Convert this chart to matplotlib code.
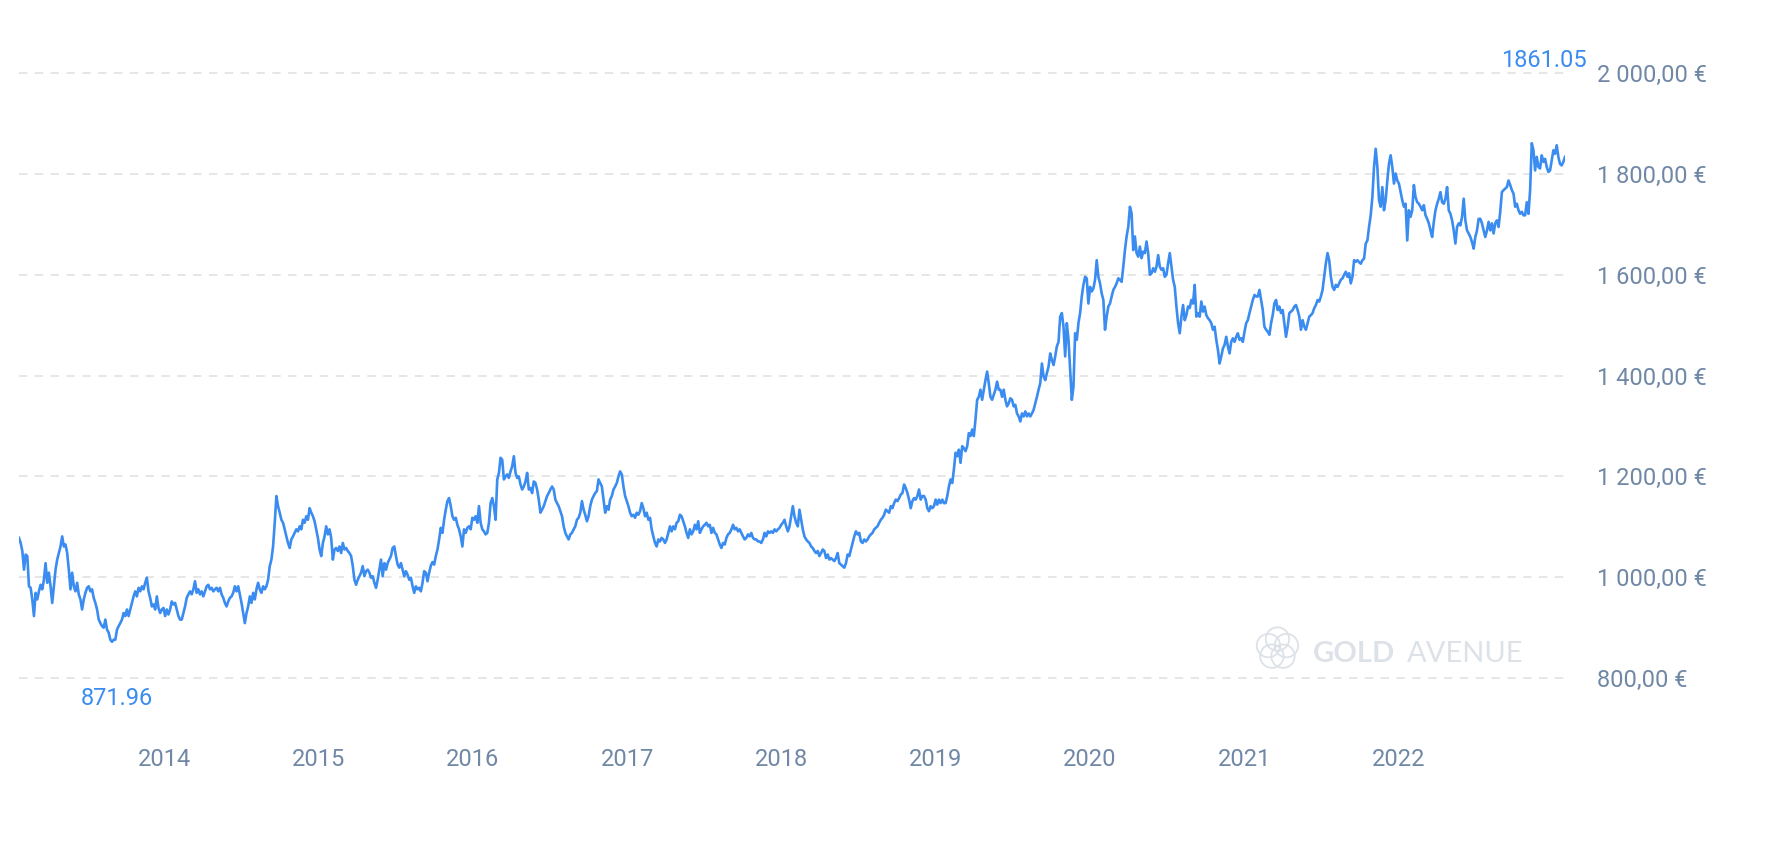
import matplotlib.pyplot as plt
import matplotlib.ticker as mticker
from matplotlib.patches import Circle
import numpy as np
import pandas as pd

plt.rcParams['font.family'] = ['Roboto', 'DejaVu Sans']

# cours de l'or en euros (pas régulier), par tranches
cours_a = [1078, 1068, 1052, 1015, 1045, 1042, 982, 979, 956, 923,
           969, 956, 972, 985, 976, 995, 1028, 989, 1009, 982,
           949, 982, 1015, 1035, 1048, 1061, 1081, 1061, 1065, 1048,
           1015, 976, 1009, 982, 972, 989, 966, 956, 936, 956,
           969, 979, 982, 972, 976, 959, 949, 936, 916, 909,
           903, 900, 916, 896, 890, 876, 871.96, 876, 876, 896,
           903, 909, 916, 929, 923, 936, 923, 936, 949, 962,
           972, 962, 979, 972, 982, 976, 989, 999, 972, 959,
           942, 946, 936, 962, 939, 929, 936, 939, 923, 936,
           926, 936, 952, 946, 949, 936, 923, 916, 916, 929,
           942, 959, 966, 972, 966, 976, 992, 969, 976, 966,
           972, 962, 972, 982, 985, 976, 979, 972, 976, 979,
           972, 979]
cours_b = [966, 959, 949, 942, 952, 959, 962, 969, 982, 972, 982, 966, 949, 929, 909,
           929, 942, 962, 949, 969, 956, 976, 989, 976, 969, 982, 976, 982, 995, 1022,
           1035, 1061, 1108, 1161, 1141, 1128, 1114, 1108, 1095, 1081, 1068, 1058, 1075,
           1081, 1088, 1095, 1091, 1101, 1095, 1114, 1108, 1121, 1114, 1137, 1128, 1121,
           1111, 1095, 1078, 1055, 1042, 1068, 1081, 1101, 1085, 1095, 1078, 1035, 1055,
           1058, 1052, 1061, 1048, 1068, 1055, 1058, 1052, 1048, 1042, 1022, 995, 985, 995,
           1002, 1009, 1022, 1002, 1012, 1015, 1009, 999, 1002, 989, 979, 995, 1015, 1035,
           1002, 1028, 1015, 1028, 1035, 1042, 1058, 1061, 1042, 1025, 1019, 1028, 1015,
           1002, 1012, 1005, 995]
cours_c = [999, 982, 969, 982, 976, 979, 972, 989, 1012, 1009, 992, 1009, 1023, 1030,
           1025, 1042, 1055, 1075, 1098, 1088, 1114, 1134, 1151, 1157, 1141, 1121, 1114,
           1118, 1104, 1095, 1081, 1061, 1095, 1088, 1098, 1101, 1095, 1118, 1114, 1121,
           1108, 1141, 1108, 1095, 1091, 1085, 1088, 1108, 1147, 1157, 1141, 1114, 1194,
           1207, 1237, 1233, 1194, 1200, 1204, 1197, 1210, 1220, 1240, 1207, 1197, 1200,
           1184, 1174, 1180, 1190, 1207, 1174, 1177, 1167, 1190, 1187, 1174, 1154, 1128,
           1134, 1141, 1151, 1161, 1167, 1174, 1180, 1174, 1154, 1147, 1141, 1131, 1121,
           1101, 1088, 1081, 1075, 1085, 1088, 1095, 1101, 1114, 1118, 1128, 1151, 1134,
           1124, 1111, 1121, 1141, 1154, 1161, 1167, 1171, 1194]
cours_d = [1187, 1180, 1154, 1128, 1141, 1134, 1154, 1161, 1174, 1180, 1187, 1200, 1210,
           1204, 1180, 1161, 1151, 1141, 1128, 1121, 1124, 1118, 1128, 1124, 1131, 1147,
           1137, 1121, 1128, 1114, 1118, 1095, 1081, 1068, 1061, 1075, 1071, 1078, 1075,
           1068, 1075, 1088, 1101, 1091, 1101, 1095, 1108, 1111, 1124, 1121, 1111, 1101,
           1088, 1078, 1095, 1085, 1091, 1104, 1095, 1111, 1088, 1095, 1101, 1104, 1108,
           1101, 1104, 1088, 1098, 1088, 1085, 1075, 1065, 1058, 1068, 1065, 1078, 1085,
           1088, 1095, 1104, 1095, 1098, 1091, 1095, 1088, 1081, 1075, 1078, 1085, 1081,
           1088, 1078, 1075, 1075, 1071, 1071, 1068, 1075, 1088, 1081, 1091, 1088, 1091,
           1088, 1095, 1091, 1095, 1098, 1104, 1108, 1114, 1101, 1091]
cours_e = [1101, 1121, 1141, 1121, 1108, 1101, 1134, 1114, 1095, 1081, 1075, 1071, 1068,
           1061, 1058, 1052, 1048, 1052, 1042, 1048, 1055, 1052, 1038, 1045, 1035, 1038,
           1035, 1032, 1038, 1048, 1028, 1025, 1022, 1019, 1028, 1045, 1042, 1055, 1068,
           1081, 1091, 1085, 1088, 1071, 1068, 1075, 1071, 1075, 1081, 1085, 1088, 1095,
           1098, 1101, 1108, 1114, 1118, 1124, 1134, 1131, 1128, 1141, 1137, 1147, 1154,
           1151, 1157, 1164, 1167, 1184, 1177, 1167, 1154, 1137, 1151, 1157, 1154, 1161,
           1174, 1154, 1161, 1161, 1154, 1137, 1131, 1141, 1137, 1141, 1154, 1144, 1154,
           1147, 1154, 1147, 1147, 1161, 1180, 1194, 1187, 1214, 1247, 1240, 1253, 1227,
           1260, 1256, 1250, 1260, 1286, 1280, 1293, 1280, 1313, 1352]
cours_f = [1358, 1372, 1352, 1372, 1391, 1408, 1385, 1358, 1352, 1362, 1372, 1388, 1372,
           1372, 1358, 1372, 1352, 1339, 1345, 1355, 1352, 1339, 1342, 1325, 1319, 1309,
           1325, 1319, 1329, 1319, 1325, 1319, 1325, 1332, 1345, 1358, 1372, 1385, 1424,
           1398, 1391, 1405, 1418, 1444, 1431, 1421, 1438, 1458, 1467, 1517, 1524, 1497,
           1438, 1504, 1471, 1411, 1352, 1378, 1484, 1471, 1504, 1524, 1557, 1580, 1596,
           1593, 1543, 1576, 1567, 1573, 1590, 1629, 1596, 1583, 1563, 1550, 1491, 1517,
           1537, 1543, 1557, 1570, 1576, 1583, 1593, 1590, 1586, 1616, 1649, 1676, 1695,
           1735, 1722, 1649, 1676, 1643, 1636, 1656, 1633, 1646, 1643, 1666, 1643, 1600,
           1603, 1613, 1606, 1616, 1639, 1616, 1610, 1613, 1596, 1600]
cours_g = [1623, 1643, 1616, 1590, 1576, 1537, 1504, 1484, 1517, 1540, 1510, 1520, 1537,
           1534, 1550, 1543, 1580, 1517, 1524, 1517, 1547, 1527, 1537, 1520, 1514, 1510,
           1504, 1491, 1497, 1471, 1451, 1424, 1438, 1454, 1461, 1477, 1458, 1444, 1467,
           1474, 1467, 1477, 1484, 1471, 1474, 1467, 1487, 1504, 1510, 1524, 1537, 1550,
           1560, 1557, 1557, 1570, 1550, 1530, 1497, 1491, 1487, 1481, 1504, 1520, 1543,
           1550, 1530, 1537, 1524, 1530, 1504, 1477, 1497, 1524, 1527, 1530, 1537, 1540,
           1530, 1517, 1491, 1510, 1497, 1491, 1504, 1517, 1520, 1524, 1534, 1540, 1550,
           1547, 1557, 1570, 1596, 1623, 1643, 1629, 1596, 1576, 1570, 1580, 1576, 1583,
           1590, 1593, 1600, 1606, 1596, 1603, 1583, 1596, 1629, 1626]
cours_h = [1629, 1625, 1622, 1629, 1632, 1662, 1668, 1695, 1718, 1754, 1814, 1850, 1814,
           1748, 1735, 1774, 1728, 1748, 1787, 1820, 1837, 1814, 1781, 1801, 1787, 1781,
           1764, 1748, 1735, 1741, 1668, 1728, 1715, 1728, 1778, 1754, 1744, 1741, 1735,
           1728, 1738, 1718, 1711, 1702, 1688, 1675, 1705, 1728, 1741, 1751, 1764, 1744,
           1741, 1751, 1774, 1728, 1721, 1708, 1688, 1662, 1695, 1702, 1698, 1715, 1751,
           1708, 1688, 1682, 1675, 1665, 1652, 1675, 1688, 1711, 1711, 1702, 1688, 1675,
           1688, 1705, 1688, 1702, 1682, 1702, 1708, 1695, 1725, 1764, 1768, 1771, 1774,
           1787, 1778, 1768, 1761, 1735, 1741, 1728, 1721, 1725, 1718, 1718, 1744, 1721,
           1768, 1861.05, 1847, 1807, 1834, 1814, 1811, 1837, 1824, 1830, 1814, 1804, 1807,
           1827, 1847, 1840, 1857, 1834, 1820, 1817, 1824, 1834]

cours = np.array(cours_a + cours_b + cours_c + cours_d + cours_e + cours_f + cours_g + cours_h)
dates = pd.date_range("2013-01-22", "2023-01-29", periods=len(cours))

annees = [2014, 2015, 2016, 2017, 2018, 2019, 2020, 2021, 2022]
niveaux = [800, 1000, 1200, 1400, 1600, 1800, 2000]

bleu = '#3a8cf0'
gris_texte = '#7088a6'


def format_euro(v, pos):
    s = f"{v:,.2f}".replace(",", " ").replace(".", ",")
    return s + " €"


fig = plt.figure(figsize=(17.66, 8.42), dpi=100)
ax = fig.add_axes([0.01076, 0.17078, 0.87542, 0.76627])

ax.plot(dates, cours, color=bleu, lw=1.9, zorder=3)

ax.set_xlim(dates[0], dates[-1])
ax.set_ylim(760, 2040)
ax.set_yticks(niveaux)
ax.yaxis.set_major_formatter(mticker.FuncFormatter(format_euro))
ax.yaxis.tick_right()
ax.set_xticks([pd.Timestamp(f"{a}-01-01") for a in annees])
ax.set_xticklabels([str(a) for a in annees])
ax.tick_params(axis='y', length=0, pad=23, labelsize=17, labelcolor=gris_texte)
ax.tick_params(axis='x', length=0, pad=36, labelsize=17, labelcolor=gris_texte)
ax.yaxis.grid(True, color='#e2e2e2', lw=1.2, linestyle=(0, (5, 4.5)))
ax.xaxis.grid(False)
for s in ax.spines.values():
    s.set_visible(False)

# min et max
i_max = int(np.argmax(cours))
i_min = int(np.argmin(cours))
ax.annotate(f"{cours[i_max]:.2f}", xy=(dates[i_max], 2000), xytext=(12, 6),
            textcoords='offset pixels', ha='center', va='baseline',
            color=bleu, fontsize=17)
ax.annotate(f"{cours[i_min]:.2f}", xy=(dates[i_min], 800), xytext=(5, -27),
            textcoords='offset pixels', ha='center', va='baseline',
            color=bleu, fontsize=17, annotation_clip=False)

# filigrane
gris_logo = '#dde2e9'
fig.text(0.7435, 0.2138, "GOLD", fontsize=21, fontweight='bold', color=gris_logo,
         family=['Lato', 'DejaVu Sans'], va='baseline')
fig.text(0.7967, 0.2138, "AVENUE", fontsize=21, fontweight='normal', color=gris_logo,
         family=['Lato', 'DejaVu Sans'], va='baseline')
ax_logo = fig.add_axes([0.7106, 0.2019, 0.0255, 0.0558])
ax_logo.set_xlim(-1, 1)
ax_logo.set_ylim(-1, 1)
ax_logo.set_aspect('equal')
ax_logo.axis('off')
for k in range(5):
    ang = np.deg2rad(90 + 72 * k)
    ax_logo.add_patch(Circle((0.42 * np.cos(ang), 0.42 * np.sin(ang)), 0.52,
                             fill=False, ec=gris_logo, lw=1.3))

fig.savefig('out.png', dpi=100)
